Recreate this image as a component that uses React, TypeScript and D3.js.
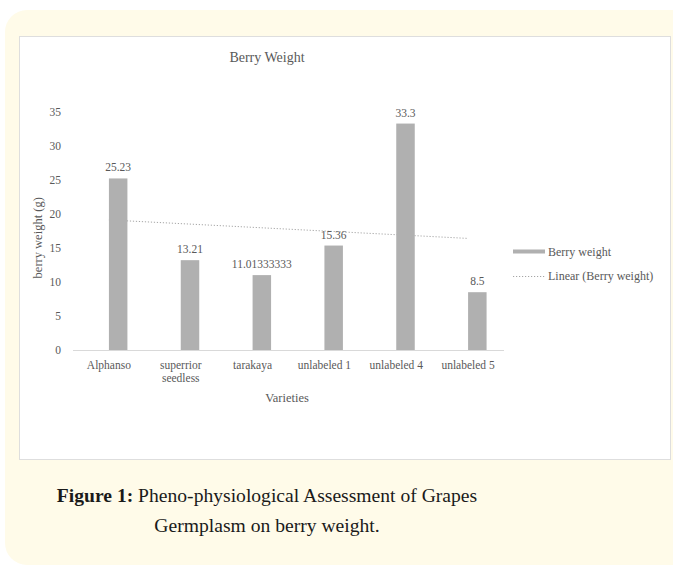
import * as d3 from 'd3';
import React from 'react';

const width = 673;
const height = 567;

const categories = ['Alphanso', 'superrior seedless', 'tarakaya', 'unlabeled 1', 'unlabeled 4', 'unlabeled 5'];
const berryWeight = [25.23, 13.21, 11.01333333, 15.36, 33.3, 8.5];
const valueLabels = ['25.23', '13.21', '11.01333333', '15.36', '33.3', '8.5'];
const yTicks = [0, 5, 10, 15, 20, 25, 30, 35];

const textColor = '#595959';
const barColor = '#b0b0b0';
const serif = '"Liberation Serif", "Times New Roman", serif';

// least squares fit over category index 1..n
function linearFit(values: number[]) {
  const xs = values.map((_, i) => i + 1);
  const mx = d3.mean(xs) as number;
  const my = d3.mean(values) as number;
  const num = d3.sum(xs, (x, i) => (x - mx) * (values[i] - my));
  const den = d3.sum(xs, (x) => (x - mx) ** 2);
  const slope = num / den;
  return (x: number) => my + slope * (x - mx);
}

export default function App() {
  const x = d3.scaleBand<string>().domain(categories).range([73, 504]);
  const y = d3.scaleLinear().domain([0, 35]).range([350, 112]);
  const bw = x.bandwidth();
  const barW = 18.5;
  const center = (c: string) => (x(c) as number) + bw / 2;

  const fit = linearFit(berryWeight);
  const trend = d3
    .line<number>()
    .x((i) => center(categories[i]))
    .y((i) => y(fit(i + 1)));

  return (
    <div style={{ position: 'absolute', left: 0, top: 0 }}>
      <svg width={width} height={height} style={{ display: 'block' }}>
        <rect x={0} y={0} width={width} height={height} fill="#ffffff" />
        <rect x={5} y={10} width={700} height={555} rx={22} fill="#fffbe9" />
        <rect x={19.5} y={36.5} width={651} height={423} fill="#ffffff" stroke="#dedede" />

        <text x={267} y={57} textAnchor="middle" dominantBaseline="central" fontFamily={serif} fontSize={14} fill={textColor}>
          Berry Weight
        </text>

        {yTicks.map((t) => (
          <text key={t} x={61} y={y(t)} textAnchor="end" dominantBaseline="central" fontFamily={serif} fontSize={11.5} fill={textColor}>
            {t}
          </text>
        ))}

        <text
          transform={`translate(38, ${y(16.5)}) rotate(-90)`}
          textAnchor="middle"
          dominantBaseline="central"
          fontFamily={serif}
          fontSize={12.5}
          fill={textColor}
        >
          berry weight (g)
        </text>

        <path
          d={trend(d3.range(categories.length)) || ''}
          fill="none"
          stroke="#a6a6a6"
          strokeWidth={1}
          strokeDasharray="1.2 1.8"
        />

        {categories.map((c, i) => (
          <rect key={c} x={center(c)} y={y(berryWeight[i])} width={barW} height={y(0) - y(berryWeight[i])} fill={barColor} />
        ))}

        <line x1={73} x2={504} y1={y(0) + 0.5} y2={y(0) + 0.5} stroke="#d9d9d9" />

        {categories.map((c, i) => (
          <text
            key={c}
            x={center(c) + barW / 2}
            y={y(berryWeight[i]) - 11}
            textAnchor="middle"
            dominantBaseline="central"
            fontFamily={serif}
            fontSize={11.5}
            fill={textColor}
          >
            {valueLabels[i]}
          </text>
        ))}

        {categories.map((c) => {
          const words = c === 'superrior seedless' ? ['superrior', 'seedless'] : [c];
          return (
            <text key={c} x={center(c)} textAnchor="middle" fontFamily={serif} fontSize={11.5} fill={textColor}>
              {words.map((w, j) => (
                <tspan key={w} x={center(c)} y={369 + j * 13}>
                  {w}
                </tspan>
              ))}
            </text>
          );
        })}

        <text x={287} y={398} textAnchor="middle" dominantBaseline="central" fontFamily={serif} fontSize={12.5} fill={textColor}>
          Varieties
        </text>

        <rect x={513} y={249.5} width={32} height={4} fill={barColor} />
        <text x={548} y={252} dominantBaseline="central" fontFamily={serif} fontSize={12} fill={textColor}>
          Berry weight
        </text>
        <line x1={513} x2={545} y1={276.5} y2={276.5} stroke="#a6a6a6" strokeDasharray="1.2 1.8" />
        <text x={548} y={276} dominantBaseline="central" fontFamily={serif} fontSize={12} fill={textColor}>
          Linear (Berry weight)
        </text>

        <text x={267} y={495} textAnchor="middle" dominantBaseline="central" fontFamily={serif} fontSize={19.6} fill="#1a1a1a">
          <tspan fontWeight="bold">Figure 1:</tspan> Pheno-physiological Assessment of Grapes
        </text>
        <text x={267} y={525} textAnchor="middle" dominantBaseline="central" fontFamily={serif} fontSize={19.6} fill="#1a1a1a">
          Germplasm on berry weight.
        </text>
      </svg>
    </div>
  );
}
